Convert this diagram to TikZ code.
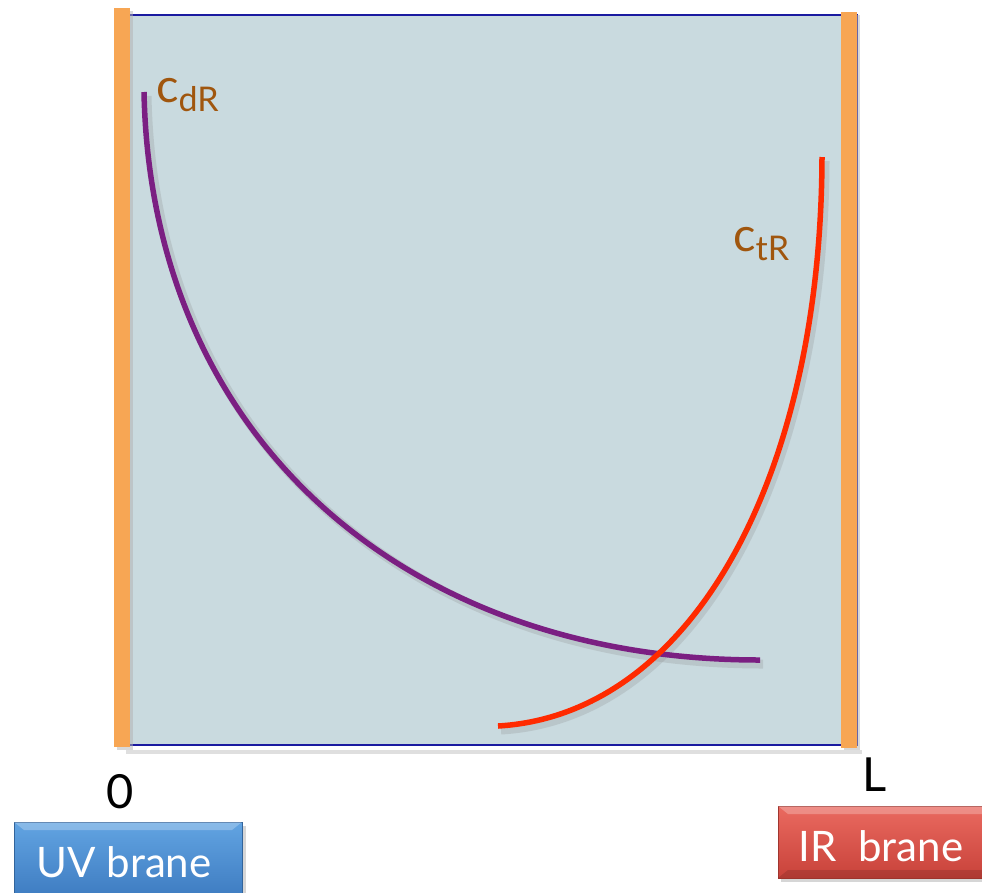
\documentclass[tikz,border=0pt]{standalone}
\usepackage{fontspec}
\setmainfont{Lato}
\usetikzlibrary{calc}
\definecolor{boxfill}{HTML}{C9DADF}
\definecolor{branebar}{HTML}{F7A654}
\definecolor{outline}{HTML}{1A1AA0}
\definecolor{cpurple}{HTML}{7B1F82}
\definecolor{cred}{HTML}{FF2A00}
\definecolor{lbl}{HTML}{A0560E}
\definecolor{uvtop}{HTML}{62A4E2}
\definecolor{uvbot}{HTML}{3F7DC2}
\definecolor{irtop}{HTML}{EA6A60}
\definecolor{irbot}{HTML}{C8423A}
\tikzset{
  curveline/.style={line width=5.5pt},
  curveshadow/.style={line width=9pt, draw=black!45, opacity=0.25},
  bar/.style={fill=branebar, draw=none},
  clabel/.style={text=lbl, inner sep=0pt, anchor=base west},
  axislabel/.style={inner sep=0pt, font=\fontsize{47}{47}\selectfont},
  branebox/.style={inner sep=0pt, text=white, font=\fontsize{42}{42}\selectfont}
}
\begin{document}
\begin{tikzpicture}[x=1pt,y=-1pt]
\useasboundingbox (0,0) rectangle (982,892);
% shadow of box
\fill[black!25, opacity=0.5] (126,750) rectangle (862,754);
% box
\filldraw[fill=boxfill, draw=outline, line width=1.5pt] (122,15) rectangle (857,745);
% brane bars
\fill[black!30, opacity=0.5] (117,11) rectangle (133,750);
\fill[bar] (114,8) rectangle (130,747);
\fill[black!30, opacity=0.5] (844,15) rectangle (860,750);
\fill[bar] (841,12) rectangle (857,748);
% curve shadows
\draw[curveshadow] (147,96) .. controls (154,440) and (410,664) .. (763,664);
\draw[curveshadow] (825,161) .. controls (824,480) and (693,719) .. (501,730);
% curves
\coordinate (dstart) at (144,92);
\coordinate (dend) at (760,660);
\coordinate (tstart) at (822,157);
\coordinate (tend) at (498,726);
\draw[curveline, draw=cpurple] (dstart) .. controls (151,440) and (407,660) .. (dend);
\draw[curveline, draw=cred] (tstart) .. controls (821,480) and (690,715) .. (tend);
% labels
\node[clabel] (cdr) at (156,102) {\fontsize{47}{47}\selectfont c\raisebox{-9pt}{\fontsize{34}{34}\selectfont dR}};
\node[clabel] (ctr) at (733,251) {\fontsize{47}{47}\selectfont c\raisebox{-9pt}{\fontsize{34}{34}\selectfont tR}};
\node[axislabel] (zero) at (120,792) {0};
\node[axislabel] (ell) at (875,775) {L};
% UV brane box
\fill[black!40, opacity=0.4] (17,826) rectangle (246,896);
\shade[top color=uvtop, bottom color=uvbot, draw=uvbot!80!black, line width=0.8pt] (14,822) rectangle (242,895);
\fill[white, opacity=0.25] (14,822) -- (242,822) -- (232,830) -- (24,830) -- cycle;
\node[branebox] (uv) at (124,862) {UV brane};
% IR brane box
\fill[black!40, opacity=0.4] (781,810) rectangle (985,882);
\shade[top color=irtop, bottom color=irbot, draw=irbot!80!black, line width=0.8pt] (778,806) rectangle (990,878);
\fill[white, opacity=0.25] (778,806) -- (990,806) -- (990,814) -- (788,814) -- cycle;
\fill[black, opacity=0.12] (778,878) -- (990,878) -- (990,870) -- (788,870) -- cycle;
\node[branebox] (ir) at (881,846) {IR\ \ brane};
\end{tikzpicture}
\end{document}
